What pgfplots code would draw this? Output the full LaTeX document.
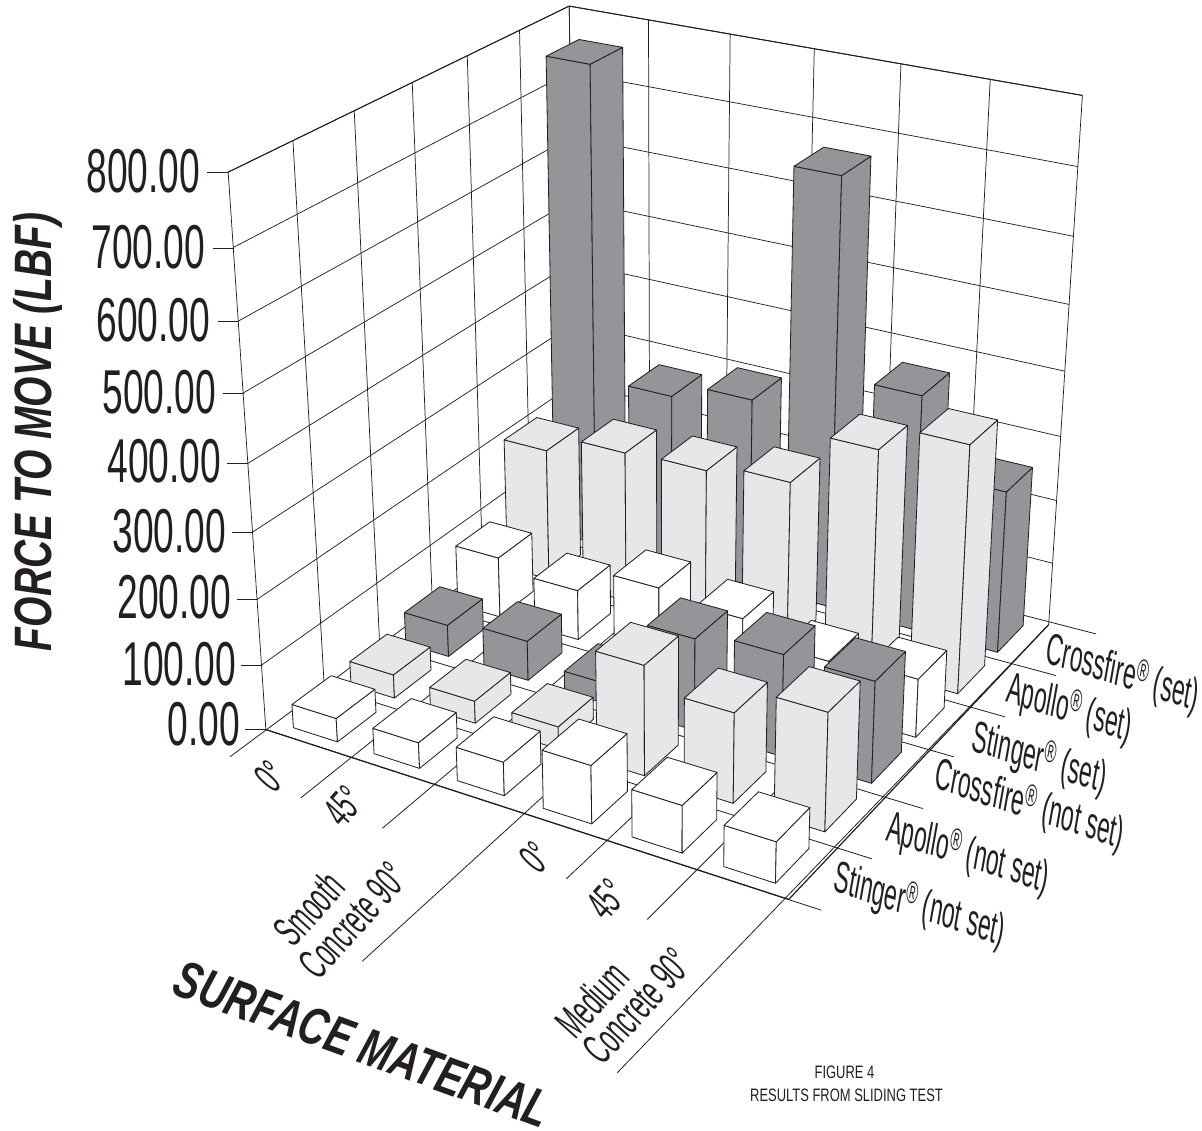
\documentclass[border=0pt]{standalone}
\usepackage{fontspec}
\usepackage{pgfplots}
\pgfplotsset{compat=1.18}
\newfontfamily\fa[FakeStretch=.60]{Liberation Sans}
\newfontfamily\fb[FakeStretch=.74]{Liberation Sans}
\newfontfamily\fc[FakeStretch=.72]{Liberation Sans}
\newfontfamily\fd[FakeStretch=.53]{Liberation Sans}
\definecolor{ink}{HTML}{231F20}
\definecolor{barD}{HTML}{939598}
\definecolor{barL}{HTML}{E6E7E8}
\definecolor{barW}{HTML}{FFFFFF}
% perspective camera read off the frame of the figure: (u,v,z) -> (\Px,\Py) in picture pixels
\newcommand\proj[3]{%
  \pgfmathsetmacro\Ps{(#1)/6}\pgfmathsetmacro\Pt{(#2)/6}\pgfmathsetmacro\Pz{(#3)/800}%
  \pgfmathsetmacro\Pw{1-0.09223*\Ps+0.15802*\Pt-0.08619*\Pz}%
  \pgfmathsetmacro\Px{(450.5*\Ps+401.83*\Pt-57.38*\Pz+266)/\Pw}%
  \pgfmathsetmacro\Py{(87*\Ps-150.87*\Pt-572.6*\Pz+730)/\Pw}}
\newcommand\startpoly{\def\plist{}}
\newcommand\pt[3]{\proj{#1}{#2}{#3}\edef\plist{\plist (\Px,\Py)}}
\newcommand\flushpoly[1]{\edef\tmp{\noexpand\addplot[line width=.62pt,draw=ink,line join=round,fill=#1] coordinates {\plist};}\tmp}
\newcommand\flushline[1]{\edef\tmp{\noexpand\addplot[#1,draw=ink,line cap=butt] coordinates {\plist};}\tmp}
% one line between two 3-D points
\newcommand\seg[7]{\startpoly\pt{#2}{#3}{#4}\pt{#5}{#6}{#7}\flushline{#1}}
% one floor line that runs on to a typed end in picture pixels
\newcommand\runout[6]{\startpoly\pt{#2}{#3}{#4}\edef\plist{\plist (#5,#6)}\flushline{#1}}
% one bar: category i, series j, value z, colour
\newcommand\onebar[4]{%
  \pgfmathsetmacro\ua{#1+.22}\pgfmathsetmacro\ub{#1+.77}%
  \pgfmathsetmacro\va{#2+.17}\pgfmathsetmacro\vb{#2+.84}%
  \startpoly\pt\ua\va{0}\pt\ub\va{0}\pt\ub\va{#3}\pt\ua\va{#3}\pt\ua\va{0}\flushpoly{#4}%
  \startpoly\pt\ub\va{0}\pt\ub\vb{0}\pt\ub\vb{#3}\pt\ub\va{#3}\pt\ub\va{0}\flushpoly{#4}%
  \startpoly\pt\ua\va{#3}\pt\ub\va{#3}\pt\ub\vb{#3}\pt\ua\vb{#3}\pt\ua\va{#3}\flushpoly{#4}}
\newcommand\reg{\textsuperscript{\textregistered}}
\begin{document}
\begin{tikzpicture}
\begin{axis}[
  scale only axis, width=901.5pt, height=848.25pt,
  xmin=0, xmax=1202, ymin=0, ymax=1131, y dir=reverse,
  hide axis, clip=false,
]
\path (axis cs:0,0) rectangle (axis cs:1202,1131);
% walls
\pgfplotsforeachungrouped \k in {0,1,2,3,4,5,6}{%
  \seg{line width=.55pt}{0}{\k}{0}{0}{\k}{800}%
  \seg{line width=.55pt}{\k}{6}{0}{\k}{6}{800}}
\pgfplotsforeachungrouped \z in {100,200,300,400,500,600,700,800}{%
  \seg{line width=.55pt}{0}{0}{\z}{0}{6}{\z}%
  \seg{line width=.55pt}{0}{6}{\z}{6}{6}{\z}}
\seg{line width=.75pt}{0}{0}{800}{0}{6}{800}
\seg{line width=.75pt}{0}{6}{800}{6}{6}{800}
% value ticks
\addplot[line width=.55pt,draw=ink] coordinates {(207.3,172.7)(228.3,172.7)};
\addplot[line width=.55pt,draw=ink] coordinates {(212.7,248.3)(233.7,248.3)};
\addplot[line width=.55pt,draw=ink] coordinates {(217.7,321.7)(238.7,321.7)};
\addplot[line width=.55pt,draw=ink] coordinates {(222.7,393.3)(243.7,393.3)};
\addplot[line width=.55pt,draw=ink] coordinates {(227.3,463.3)(248.3,463.3)};
\addplot[line width=.55pt,draw=ink] coordinates {(232.3,532.7)(253.3,532.7)};
\addplot[line width=.55pt,draw=ink] coordinates {(236.7,600)(257.7,600)};
\addplot[line width=.55pt,draw=ink] coordinates {(241.3,665.7)(262.3,665.7)};
\addplot[line width=.55pt,draw=ink] coordinates {(245,730)(266,730)};
% floor lines, running on beyond the floor
\runout{line width=.6pt}{0}{6}{0}{230}{757.3}
\runout{line width=.6pt}{1}{6}{0}{301}{798.3}
\runout{line width=.6pt}{2}{6}{0}{382.7}{828.7}
\runout{line width=.6pt}{3}{6}{0}{362.3}{962}
\runout{line width=.6pt}{4}{6}{0}{566.7}{879.3}
\runout{line width=.6pt}{5}{6}{0}{647.7}{920}
\runout{line width=.6pt}{6}{6}{0}{617.7}{1073.3}
\runout{line width=.6pt}{0}{0}{0}{821.7}{910.7}
\runout{line width=.6pt}{0}{1}{0}{872.3}{859.3}
\runout{line width=.6pt}{0}{2}{0}{923.3}{809}
\runout{line width=.6pt}{0}{3}{0}{954.3}{757.3}
\runout{line width=.6pt}{0}{4}{0}{1005.7}{717.3}
\runout{line width=.6pt}{0}{5}{0}{1056.7}{676}
\runout{line width=.6pt}{0}{6}{0}{1096.7}{634.3}
% bars, back to front: Crossfire (set)
\onebar{0}{5}{760.2}{barD}
\onebar{1}{5}{276}{barD}
\onebar{2}{5}{300.9}{barD}
\onebar{3}{5}{667.6}{barD}
\onebar{4}{5}{368.9}{barD}
\onebar{5}{5}{253.5}{barD}
% Apollo (set)
\onebar{0}{4}{211.5}{barL}
\onebar{1}{4}{240}{barL}
\onebar{2}{4}{244.6}{barL}
\onebar{3}{4}{259.2}{barL}
\onebar{4}{4}{341.5}{barL}
\onebar{5}{4}{381}{barL}
% Stinger (set)
\onebar{0}{3}{96.3}{barW}
\onebar{1}{3}{79.3}{barW}
\onebar{2}{3}{119.7}{barW}
\onebar{3}{3}{108}{barW}
\onebar{4}{3}{79.2}{barW}
\onebar{5}{3}{90.1}{barW}
% Crossfire (not set)
\onebar{0}{2}{50.2}{barD}
\onebar{1}{2}{62.2}{barD}
\onebar{2}{2}{31.8}{barD}
\onebar{3}{2}{141.2}{barD}
\onebar{4}{2}{155.3}{barD}
\onebar{5}{2}{154}{barD}
% Apollo (not set)
\onebar{0}{1}{36.7}{barL}
\onebar{1}{1}{34.4}{barL}
\onebar{2}{1}{34.5}{barL}
\onebar{3}{1}{167}{barL}
\onebar{4}{1}{135.8}{barL}
\onebar{5}{1}{176.5}{barL}
% Stinger (not set)
\onebar{0}{0}{36.3}{barW}
\onebar{1}{0}{39.3}{barW}
\onebar{2}{0}{50.9}{barW}
\onebar{3}{0}{87.4}{barW}
\onebar{4}{0}{70.6}{barW}
\onebar{5}{0}{60.8}{barW}
% front edges
\seg{line width=.9pt}{0}{0}{0}{6}{0}{0}
\seg{line width=.9pt}{6}{0}{0}{6}{6}{0}
% value labels
\tikzset{vl/.style={anchor=east,inner sep=0pt,text=ink,font=\fa\fontsize{46.5}{46.5}\selectfont}}
\node[vl] at (axis cs:200.5,171) {800.00};
\node[vl] at (axis cs:205.5,247) {700.00};
\node[vl] at (axis cs:210.5,320) {600.00};
\node[vl] at (axis cs:216.5,392) {500.00};
\node[vl] at (axis cs:221.5,461) {400.00};
\node[vl] at (axis cs:226.5,531) {300.00};
\node[vl] at (axis cs:231.5,598) {200.00};
\node[vl] at (axis cs:236.5,665) {100.00};
\node[vl] at (axis cs:240.5,724.5) {0.00};
% titles
\node[rotate=90,inner sep=0pt,text=ink,font=\fb\bfseries\itshape\fontsize{39.5}{39.5}\selectfont] at (axis cs:38,432) {FORCE TO MOVE (LBF)};
\node[transform shape,rotate=-20,inner sep=0pt,text=ink,font=\fb\bfseries\itshape\fontsize{39.5}{39.5}\selectfont] at (axis cs:363,1045) {SURFACE MATERIAL};
\node[inner sep=0pt,text=ink,font=\fc\fontsize{13.5}{13.5}\selectfont] at (axis cs:845,1073) {FIGURE 4};
\node[inner sep=0pt,text=ink,font=\fc\fontsize{13.5}{13.5}\selectfont] at (axis cs:847,1096) {RESULTS FROM SLIDING TEST};
% category labels
\tikzset{cl/.style={transform shape,rotate=48,inner sep=0pt,text=ink,font=\fd\fontsize{33}{33}\selectfont}}
\node[cl] at (axis cs:271,776.7) {0\textdegree};
\node[cl] at (axis cs:344,806.7) {45\textdegree};
\node[cl] at (axis cs:309,909) {Smooth};
\node[cl] at (axis cs:353.5,921) {Concrete 90\textdegree};
\node[cl] at (axis cs:536,858) {0\textdegree};
\node[cl] at (axis cs:607,900) {45\textdegree};
\node[cl] at (axis cs:592,1000) {Medium};
\node[cl] at (axis cs:637.7,1006.7) {Concrete 90\textdegree};
% series labels
\tikzset{sl/.style={transform shape,rotate=-18,xslant=-.14,inner sep=0pt,text=ink,font=\fd\fontsize{33}{33}\selectfont}}
\node[sl] at (axis cs:1123.3,675) {Crossfire\reg\ (set)};
\node[sl] at (axis cs:1070,710) {Apollo\reg\ (set)};
\node[sl] at (axis cs:1040,760) {Stinger\reg\ (set)};
\node[sl] at (axis cs:1030,806.7) {Crossfire\reg\ (not set)};
\node[sl] at (axis cs:968.3,855) {Apollo\reg\ (not set)};
\node[sl] at (axis cs:920,906.7) {Stinger\reg\ (not set)};
\end{axis}
\end{tikzpicture}
\end{document}
